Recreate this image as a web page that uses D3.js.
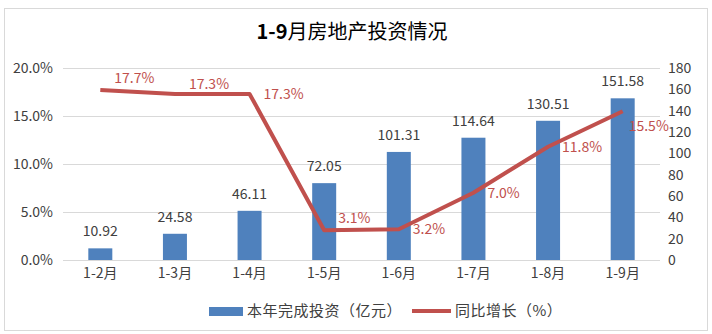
<!DOCTYPE html>
<html>
<head>
<meta charset="utf-8">
<script src="https://cdn.jsdelivr.net/npm/d3@7"></script>
<style>
  body { margin: 0; background: #fff; }
  text { font-family: "Noto Sans CJK SC", "Noto Sans", sans-serif; }
</style>
</head>
<body>
<script>
// chart data
var months = ["1-2月", "1-3月", "1-4月", "1-5月", "1-6月", "1-7月", "1-8月", "1-9月"];
var investment = [10.92, 24.58, 46.11, 72.05, 101.31, 114.64, 130.51, 151.58];
var growth = [17.7, 17.3, 17.3, 3.1, 3.2, 7.0, 11.8, 15.5];
var leftTicks = [0, 5, 10, 15, 20];
var rightTicks = [0, 20, 40, 60, 80, 100, 120, 140, 160, 180];
var seriesNames = ["本年完成投资（亿元）", "同比增长（%）"];

var W = 712, H = 334;
var margin = { top: 68, right: 52, bottom: 74, left: 63 };
var width = W - margin.left - margin.right;
var height = H - margin.top - margin.bottom;

var barColor = "#4f81bd", lineColor = "#c0504d", textColor = "#404040";
var fs = 14;

var svg = d3.select("body").append("svg")
    .attr("width", W)
    .attr("height", H);

// outer frame
svg.append("rect")
    .attr("x", 4.5).attr("y", 8.5)
    .attr("width", 703).attr("height", 322)
    .attr("fill", "#fff")
    .attr("stroke", "#d9d9d9");

var title = svg.append("text")
    .attr("x", 352).attr("y", 39)
    .attr("text-anchor", "middle")
    .attr("font-size", 20)
    .attr("fill", "#000");
title.append("tspan").attr("font-weight", "bold").text("1-9");
title.append("tspan").attr("font-weight", 400).text("月房地产投资情况");

var g = svg.append("g")
    .attr("transform", "translate(" + margin.left + "," + margin.top + ")");

var x = d3.scaleBand().domain(months).range([0, width]);
var yLeft = d3.scaleLinear().domain([0, 20]).range([height, 0]);
var yRight = d3.scaleLinear().domain([0, 180]).range([height, 0]);

// gridlines
g.append("g").selectAll("line")
    .data(leftTicks)
    .join("line")
    .attr("x1", 0).attr("x2", width)
    .attr("y1", d => Math.round(yLeft(d)) + 0.5)
    .attr("y2", d => Math.round(yLeft(d)) + 0.5)
    .attr("stroke", "#d9d9d9");

function styleAxis(sel) {
    sel.select(".domain").remove();
    sel.selectAll("text").attr("font-size", fs).attr("fill", textColor)
        .attr("font-family", "'Noto Sans CJK SC', sans-serif");
}

// left axis
g.append("g")
    .call(d3.axisLeft(yLeft).tickValues(leftTicks).tickSize(0).tickPadding(10)
        .tickFormat(d => d.toFixed(1) + "%"))
    .call(styleAxis);

// right axis
g.append("g")
    .attr("transform", "translate(" + width + ",0)")
    .call(d3.axisRight(yRight).tickValues(rightTicks).tickSize(0).tickPadding(8))
    .call(styleAxis);

// category axis
g.append("g")
    .attr("transform", "translate(0," + height + ")")
    .call(d3.axisBottom(x).tickSize(0).tickPadding(8))
    .call(styleAxis);

// bars
var barW = 24;
g.append("g").selectAll("rect")
    .data(investment)
    .join("rect")
    .attr("x", (d, i) => x(months[i]) + x.bandwidth() / 2 - barW / 2)
    .attr("y", d => yRight(d))
    .attr("width", barW)
    .attr("height", d => height - yRight(d))
    .attr("fill", barColor);

g.append("g").selectAll("text")
    .data(investment)
    .join("text")
    .attr("x", (d, i) => x(months[i]) + x.bandwidth() / 2)
    .attr("y", d => yRight(d) - 12)
    .attr("text-anchor", "middle")
    .attr("font-size", fs)
    .attr("fill", textColor)
    .text(d => d.toFixed(2));

// line
var line = d3.line()
    .x((d, i) => x(months[i]) + x.bandwidth() / 2)
    .y(d => yLeft(d));

g.append("path")
    .datum(growth)
    .attr("d", line)
    .attr("fill", "none")
    .attr("stroke", lineColor)
    .attr("stroke-width", 4)
    .attr("stroke-linejoin", "round");

// line labels sit right of the point, a few moved off the line
var nudgeY = [-12, -10, 0, -12, 0, 0, 0, 15];
var nudgeX = [0, 0, 0, 0, 0, 0, 0, -8];
g.append("g").selectAll("text")
    .data(growth)
    .join("text")
    .attr("x", (d, i) => x(months[i]) + x.bandwidth() / 2 + 14 + nudgeX[i])
    .attr("y", (d, i) => yLeft(d) + nudgeY[i])
    .attr("dy", "0.35em")
    .attr("font-size", fs)
    .attr("fill", lineColor)
    .text(d => d.toFixed(1) + "%");

// legend
var legend = svg.append("g").attr("transform", "translate(0,311)");
legend.append("rect")
    .attr("x", 209).attr("y", -4)
    .attr("width", 34).attr("height", 9)
    .attr("fill", barColor);
legend.append("text")
    .attr("x", 247).attr("y", 0).attr("dy", "0.35em")
    .attr("font-size", 15).attr("letter-spacing", 0.5).attr("fill", textColor)
    .text(seriesNames[0]);
legend.append("line")
    .attr("x1", 412).attr("x2", 451)
    .attr("y1", 0).attr("y2", 0)
    .attr("stroke", lineColor)
    .attr("stroke-width", 4);
legend.append("text")
    .attr("x", 455).attr("y", 0).attr("dy", "0.35em")
    .attr("font-size", 15).attr("letter-spacing", 0.5).attr("fill", textColor)
    .text(seriesNames[1]);
</script>
</body>
</html>
